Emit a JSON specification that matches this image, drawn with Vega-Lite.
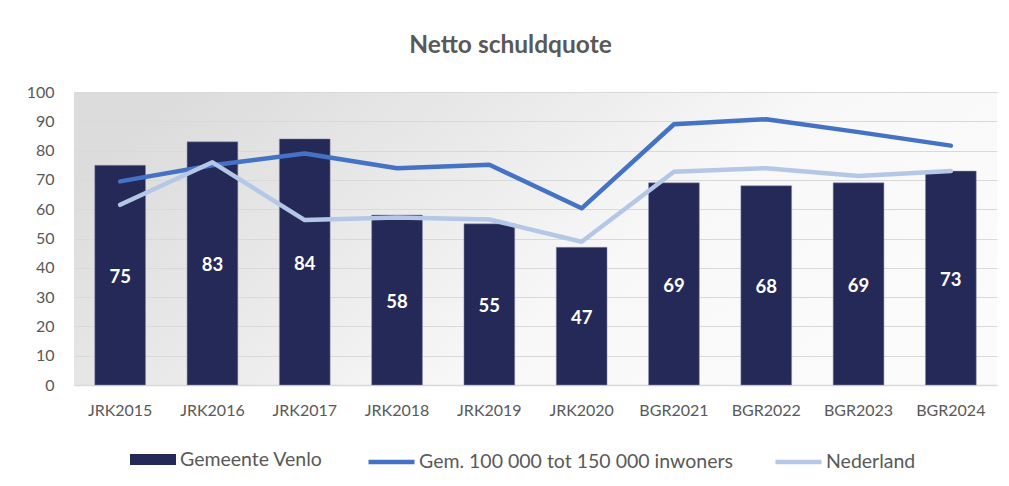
{
  "$schema": "https://vega.github.io/schema/vega-lite/v6.json",
  "width": 923,
  "height": 293,
  "autosize": {"type": "none"},
  "padding": {"left": 74, "top": 92, "right": 12, "bottom": 101},
  "background": "white",
  "config": {
    "font": "Lato",
    "view": {
      "stroke": null,
      "fill": {
        "gradient": "linear",
        "x1": 0, "y1": 0.3, "x2": 1, "y2": 0.7,
        "stops": [
          {"offset": 0, "color": "#dcdcdc"},
          {"offset": 0.35, "color": "#ebebeb"},
          {"offset": 0.6, "color": "#f8f8f8"},
          {"offset": 1, "color": "#fbfbfb"}
        ]
      }
    },
    "axisY": {
      "values": [0, 10, 20, 30, 40, 50, 60, 70, 80, 90, 100],
      "labelOverlap": false,
      "labelFontSize": 16,
      "labelColor": "#595959",
      "labelFont": "Lato",
      "ticks": false,
      "domain": false,
      "labelPadding": 20,
      "gridColor": "#d9d9d9",
      "gridWidth": 1.2,
      "title": null
    },
    "legend": {
      "labelFontSize": 19.5,
      "labelColor": "#595959",
      "labelFont": "Lato",
      "labelOffset": 4,
      "labelLimit": 500,
      "columnPadding": 33,
      "symbolSize": 2116,
      "title": null
    }
  },
  "title": {
    "text": "Netto schuldquote",
    "font": "Lato",
    "fontSize": 24.5,
    "fontWeight": "bold",
    "color": "#595959",
    "anchor": "middle",
    "frame": "group",
    "dx": -25,
    "baseline": "alphabetic",
    "offset": 7
  },
  "data": {
    "values": [
      {"jaar": "JRK2015", "venlo": 75, "gem": 69.5, "nl": 61.5},
      {"jaar": "JRK2016", "venlo": 83, "gem": 75, "nl": 76},
      {"jaar": "JRK2017", "venlo": 84, "gem": 79, "nl": 56.3},
      {"jaar": "JRK2018", "venlo": 58, "gem": 74, "nl": 57.2},
      {"jaar": "JRK2019", "venlo": 55, "gem": 75.2, "nl": 56.5},
      {"jaar": "JRK2020", "venlo": 47, "gem": 60.3, "nl": 48.9},
      {"jaar": "BGR2021", "venlo": 69, "gem": 89, "nl": 72.8},
      {"jaar": "BGR2022", "venlo": 68, "gem": 90.7, "nl": 74},
      {"jaar": "BGR2023", "venlo": 69, "gem": 86.3, "nl": 71.3},
      {"jaar": "BGR2024", "venlo": 73, "gem": 81.7, "nl": 73}
    ]
  },
  "encoding": {
    "x": {
      "field": "jaar",
      "type": "nominal",
      "sort": null,
      "scale": {"paddingInner": 0.45, "paddingOuter": 0.225},
      "axis": {
        "title": null,
        "labelAngle": 0,
        "labelFontSize": 16,
        "labelColor": "#595959",
        "labelFont": "Lato",
        "ticks": false,
        "labelPadding": 17,
        "domainColor": "#d9d9d9",
        "domainWidth": 1.5
      }
    }
  },
  "layer": [
    {
      "mark": {"type": "bar", "stroke": "#8a8fae", "strokeWidth": 0.5},
      "encoding": {
        "y": {
          "field": "venlo",
          "type": "quantitative",
          "scale": {"domain": [0, 100], "nice": false},
          "axis": {"title": null, "values": [0, 10, 20, 30, 40, 50, 60, 70, 80, 90, 100]}
        },
        "fill": {
          "datum": "Gemeente Venlo",
          "scale": {"domain": ["Gemeente Venlo"], "range": ["#252958"]},
          "legend": {
            "orient": "none",
            "legendX": 56,
            "legendY": 344.5,
            "symbolType": "M-1,-0.24H1V0.24H-1Z",
            "symbolStrokeWidth": 0,
            "symbolOpacity": 1
          }
        }
      }
    },
    {
      "transform": [{"calculate": "datum.venlo / 2", "as": "mid"}],
      "mark": {"type": "text", "color": "white", "fontSize": 18.5, "fontWeight": "bold", "font": "Lato", "baseline": "middle", "dy": 2},
      "encoding": {
        "y": {"field": "mid", "type": "quantitative", "axis": {"title": null, "values": [0, 10, 20, 30, 40, 50, 60, 70, 80, 90, 100]}},
        "text": {"field": "venlo", "type": "quantitative"}
      }
    },
    {
      "mark": {"type": "line", "strokeWidth": 4.5, "strokeCap": "round", "strokeJoin": "round"},
      "encoding": {
        "y": {"field": "gem", "type": "quantitative", "axis": {"title": null, "values": [0, 10, 20, 30, 40, 50, 60, 70, 80, 90, 100]}},
        "stroke": {
          "datum": "Gem. 100 000 tot 150 000 inwoners",
          "scale": {
            "domain": ["Gem. 100 000 tot 150 000 inwoners", "Nederland"],
            "range": ["#4472C4", "#B4C7E7"]
          },
          "legend": {
            "orient": "none",
            "direction": "horizontal",
            "legendX": 292,
            "legendY": 344.5,
            "labelOffset": 2,
            "symbolType": "M-1,0H1",
            "symbolStrokeWidth": 4.5,
            "symbolOpacity": 1
          }
        }
      }
    },
    {
      "mark": {"type": "line", "strokeWidth": 4.5, "strokeCap": "round", "strokeJoin": "round"},
      "encoding": {
        "y": {"field": "nl", "type": "quantitative", "axis": {"title": null, "values": [0, 10, 20, 30, 40, 50, 60, 70, 80, 90, 100]}},
        "stroke": {"datum": "Nederland"}
      }
    }
  ]
}
